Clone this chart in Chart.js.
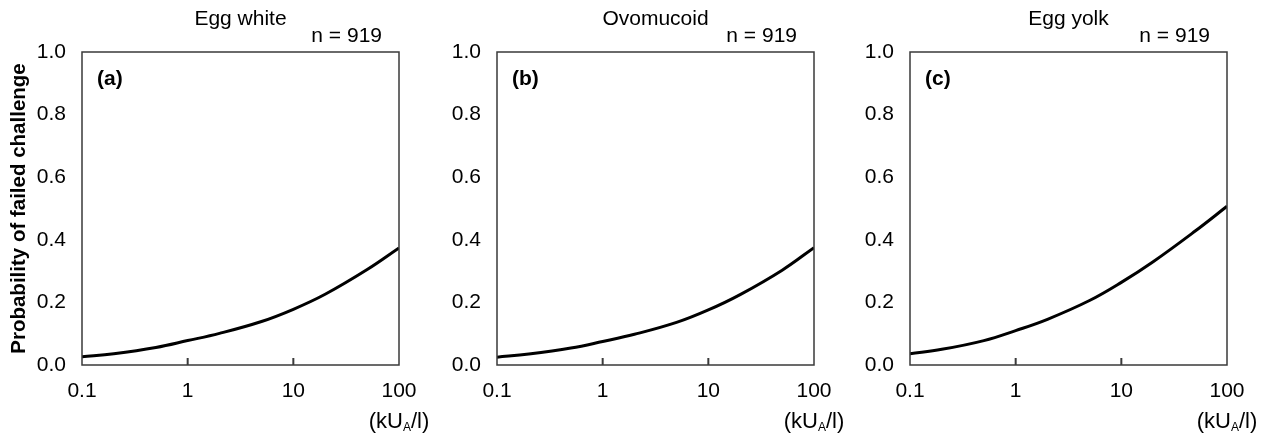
<!DOCTYPE html>
<html>
<head>
<meta charset="utf-8">
<title>Probability of failed challenge</title>
<script src="https://cdn.jsdelivr.net/npm/chart.js@4/dist/chart.umd.min.js"></script>
<style>
  body { margin: 0; background: #fff; width: 1262px; height: 436px; overflow: hidden; position: relative; }
  .panel { position: absolute; top: 0; }
</style>
</head>
<body>
<div class="panel" style="left:0px"><canvas id="chartA" width="440" height="436"></canvas></div>
<div class="panel" style="left:420px"><canvas id="chartB" width="440" height="436"></canvas></div>
<div class="panel" style="left:840px"><canvas id="chartC" width="422" height="436"></canvas></div>
<script>
// specific IgE (kUA/l) where the curves were read
const doses = [0.1, 0.2, 0.5, 1, 2, 5, 10, 20, 50, 100];
// probability of failed challenge
const eggWhite  = [0.026, 0.036, 0.056, 0.078, 0.101, 0.139, 0.178, 0.226, 0.305, 0.374];
const ovomucoid = [0.025, 0.035, 0.054, 0.075, 0.098, 0.136, 0.176, 0.225, 0.303, 0.375];
const eggYolk   = [0.036, 0.050, 0.078, 0.110, 0.146, 0.206, 0.264, 0.330, 0.428, 0.507];

const xTickValues = [0.1, 1, 10, 100];
const innerTicks = [1, 10];
const panelTitles = ['Egg white', 'Ovomucoid', 'Egg yolk'];
const panelLetters = ['(a)', '(b)', '(c)'];
const sampleLabel = 'n = 919';
const yAxisTitle = 'Probability of failed challenge';

const FONT = '"Liberation Sans", Arial, Helvetica, sans-serif';

// box, inward ticks and the texts around each panel
const panelDecor = {
  id: 'panelDecor',
  afterDraw(chart, args, opts) {
    const ctx = chart.ctx;
    const a = chart.chartArea;
    ctx.save();
    ctx.strokeStyle = '#3a3a3a';
    ctx.lineWidth = 1.5;
    ctx.strokeRect(a.left, a.top, a.right - a.left, a.bottom - a.top);

    ctx.lineWidth = 2;
    innerTicks.forEach(v => {
      const x = chart.scales.x.getPixelForValue(v);
      ctx.beginPath();
      ctx.moveTo(x, a.bottom);
      ctx.lineTo(x, a.bottom - 7);
      ctx.stroke();
    });

    ctx.fillStyle = '#000';
    ctx.textBaseline = 'alphabetic';
    ctx.font = '21px ' + FONT;
    ctx.textAlign = 'center';
    ctx.fillText(opts.title, (a.left + a.right) / 2, 25);
    ctx.textAlign = 'right';
    ctx.fillText(sampleLabel, a.right - 17, 42);

    ctx.font = 'bold 21px ' + FONT;
    ctx.textAlign = 'left';
    ctx.fillText(opts.letter, a.left + 15, a.top + 33);

    // unit (kU_A/l) centred under the right edge
    ctx.font = '22px ' + FONT;
    const w1 = ctx.measureText('(kU').width;
    const w3 = ctx.measureText('/l)').width;
    ctx.font = '12px ' + FONT;
    const w2 = ctx.measureText('A').width;
    let x = a.right - (w1 + w2 + w3) / 2;
    const base = 428;
    ctx.font = '22px ' + FONT;
    ctx.fillText('(kU', x, base);
    x += w1;
    ctx.font = '12px ' + FONT;
    ctx.fillText('A', x, base + 3);
    x += w2;
    ctx.font = '22px ' + FONT;
    ctx.fillText('/l)', x, base);
    ctx.restore();
  }
};

function makePanel(id, values, idx, axisWidth, padRight) {
  const showTitle = idx === 0;
  return new Chart(document.getElementById(id), {
    type: 'scatter',
    data: {
      datasets: [{
        data: doses.map((d, i) => ({ x: d, y: values[i] })),
        showLine: true,
        borderColor: '#000',
        borderWidth: 3,
        pointRadius: 0,
        tension: 0.4
      }]
    },
    options: {
      responsive: false,
      animation: false,
      layout: { padding: { top: 52, right: padRight, left: 0, bottom: 0 } },
      plugins: {
        legend: { display: false },
        tooltip: { enabled: false },
        panelDecor: { title: panelTitles[idx], letter: panelLetters[idx] }
      },
      scales: {
        x: {
          type: 'logarithmic',
          min: 0.1,
          max: 100,
          grid: { display: false },
          border: { display: false },
          afterBuildTicks: scale => { scale.ticks = xTickValues.map(v => ({ value: v })); },
          afterFit: scale => { scale.height = 71; },
          ticks: {
            color: '#000',
            padding: 6,
            maxRotation: 0,
            autoSkip: false,
            font: { family: FONT, size: 21 },
            callback: v => String(v)
          }
        },
        y: {
          min: 0,
          max: 1,
          grid: { display: false },
          border: { display: false },
          afterFit: scale => { scale.width = axisWidth; },
          ticks: {
            stepSize: 0.2,
            color: '#000',
            padding: 8,
            font: { family: FONT, size: 21 },
            callback: v => Number(v).toFixed(1)
          },
          title: {
            display: showTitle,
            text: yAxisTitle,
            color: '#000',
            padding: { top: 7, bottom: 0 },
            font: { family: FONT, size: 20.5, weight: 'bold' }
          }
        }
      }
    },
    plugins: [panelDecor]
  });
}

makePanel('chartA', eggWhite, 0, 82, 41);
makePanel('chartB', ovomucoid, 1, 77, 46);
makePanel('chartC', eggYolk, 2, 70, 35);
</script>
</body>
</html>
